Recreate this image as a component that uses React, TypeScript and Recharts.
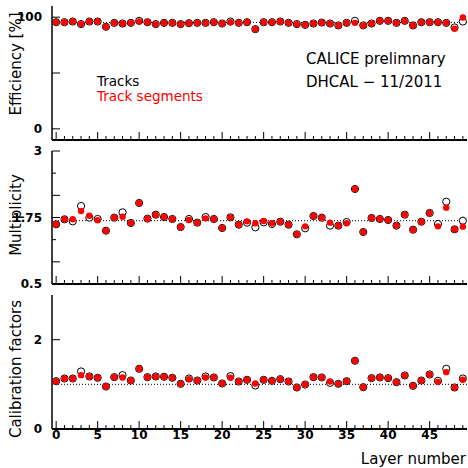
import { ReferenceLine, Scatter, ScatterChart, XAxis, YAxis } from "recharts";

const layers = [
  0, 1, 2, 3, 4, 5, 6, 7, 8, 9, 10, 11, 12, 13, 14, 15, 16, 17, 18, 19, 20, 21, 22, 23, 24,
  25, 26, 27, 28, 29, 30, 31, 32, 33, 34, 35, 36, 37, 38, 39, 40, 41, 42, 43, 44, 45, 46, 47, 48, 49,
];

const efficiencyTracks = [
  95.5, 95.5, 96.1, 93.8, 96.1, 96.1, 91.4, 94.9, 94.3, 94.9, 96.7, 95.5, 93.8, 94.9, 94.9, 93.8, 94.6,
  94.9, 94.9, 95.5, 94.3, 96.1, 94.9, 95.5, 89.3, 95.5, 95.5, 96.1, 94.9, 93.8, 93.1, 94.3, 95.2, 94.3,
  92.6, 94.9, 96.7, 92.6, 94.3, 96.7, 96.7, 94.9, 96.7, 92.6, 95.5, 95.5, 95.5, 94.9, 90.8, 96.1,
];
const efficiencySegments = [
  95.5, 95.5, 96.1, 93.8, 96.1, 96.1, 91.4, 94.9, 94.3, 94.9, 96.1, 95.5, 93.8, 94.9, 94.9, 93.8, 94.6,
  94.9, 94.9, 95.5, 94.3, 95.5, 94.9, 95.5, 89.3, 95.5, 95.5, 96.1, 94.9, 93.8, 93.1, 94.3, 95.2, 94.3,
  92.6, 94.9, 94.9, 92.6, 94.3, 96.7, 96.7, 94.9, 96.7, 92.6, 95.5, 95.5, 95.5, 94.9, 89.6, 99.7,
];

const multiplicityTracks = [
  1.622, 1.716, 1.678, 1.966, 1.747, 1.722, 1.502, 1.747, 1.847, 1.647, 2.023, 1.728, 1.803, 1.759,
  1.722, 1.571, 1.722, 1.653, 1.759, 1.722, 1.553, 1.753, 1.615, 1.653, 1.565, 1.659, 1.628, 1.671,
  1.615, 1.434, 1.547, 1.778, 1.747, 1.597, 1.597, 1.665, 2.286, 1.477, 1.741, 1.722, 1.703, 1.597,
  1.803, 1.521, 1.671, 1.835, 1.628, 2.047, 1.528, 1.69,
];
const multiplicitySegments = [
  1.622, 1.716, 1.716, 1.872, 1.784, 1.697, 1.502, 1.747, 1.765, 1.647, 2.023, 1.728, 1.803, 1.759,
  1.722, 1.571, 1.703, 1.653, 1.734, 1.722, 1.553, 1.753, 1.615, 1.678, 1.641, 1.684, 1.641, 1.671,
  1.615, 1.434, 1.584, 1.778, 1.747, 1.653, 1.597, 1.641, 2.286, 1.477, 1.741, 1.722, 1.703, 1.597,
  1.803, 1.521, 1.671, 1.835, 1.584, 1.935, 1.528, 1.578,
];

const calibrationTracks = [
  1.071, 1.131, 1.131, 1.288, 1.176, 1.146, 0.951, 1.161, 1.206, 1.086, 1.348, 1.161, 1.176, 1.169,
  1.146, 1.011, 1.131, 1.086, 1.176, 1.154, 1.019, 1.184, 1.064, 1.101, 0.974, 1.101, 1.079, 1.116,
  1.064, 0.929, 0.996, 1.161, 1.154, 1.034, 1.011, 1.071, 1.528, 0.936, 1.139, 1.154, 1.139, 1.049,
  1.198, 0.966, 1.086, 1.221, 1.079, 1.348, 0.929, 1.131,
];
const calibrationSegments = [
  1.071, 1.131, 1.131, 1.206, 1.176, 1.146, 0.951, 1.161, 1.154, 1.086, 1.348, 1.161, 1.176, 1.169,
  1.146, 1.011, 1.116, 1.086, 1.154, 1.154, 1.019, 1.146, 1.064, 1.101, 1.019, 1.101, 1.079, 1.116,
  1.064, 0.929, 0.996, 1.161, 1.154, 1.064, 1.011, 1.071, 1.528, 0.936, 1.139, 1.154, 1.139, 1.049,
  1.198, 0.966, 1.086, 1.221, 1.056, 1.273, 0.929, 1.101,
];

const xMajorStep = 5;
const efficiencyTicks = [0, 50, 100];
const efficiencyLabels = [0, 100];
const multiplicityTicks = [0.5, 0.9167, 1.3333, 1.75, 2.1667, 2.5833, 3];
const multiplicityShortTicks = [1.3333, 2.5833];
const multiplicityLabels = [0.5, 1.75, 3];
const calibrationTicks = [0, 2];
const calibrationLabels = [0, 2];

const FONT = '"DejaVu Sans", Verdana, sans-serif';

function toPoints(values: number[]) {
  return layers.map((layer, i) => ({ layer, value: values[i] }));
}

// open black ring (tracks) sits under the red dot (segments), so overlaps read as a red dot with a black rim
function OpenMarker(props: any) {
  return <circle cx={props.cx} cy={props.cy} r={3.6} fill="#fff" stroke="#000" strokeWidth={1} />;
}

function FilledMarker(props: any) {
  return <circle cx={props.cx} cy={props.cy} r={3.2} fill="#ff0000" />;
}

function renderXTick(props: any, showLabels: boolean) {
  const { x, y, payload } = props;
  const major = payload.value % xMajorStep === 0;
  return (
    <g>
      <line x1={x} x2={x} y1={y} y2={y - (major ? 8 : 4)} stroke="#000" />
      {showLabels && major && (
        <text x={x} y={y + 10} textAnchor="middle" fontFamily={FONT} fontSize={12} fontWeight="bold" fill="#000">
          {payload.value}
        </text>
      )}
    </g>
  );
}

function renderYTick(props: any, labels: number[], shortTicks: number[]) {
  const { x, y, payload } = props;
  const short = shortTicks.includes(payload.value);
  return (
    <g>
      <line x1={x} x2={x + (short ? 4 : 8)} y1={y} y2={y} stroke="#000" />
      {labels.includes(payload.value) && (
        <text x={x - 10} y={y} dy="0.36em" textAnchor="end" fontFamily={FONT} fontSize={12} fontWeight="bold" fill="#000">
          {payload.value}
        </text>
      )}
    </g>
  );
}

interface IPanelProps {
  top: number;
  bottom: number;
  domain: [number, number];
  yTicks: number[];
  yLabels: number[];
  shortTicks?: number[];
  tracks: number[];
  segments: number[];
  refValue: number;
  showXLabels?: boolean;
}

function Panel({ top, bottom, domain, yTicks, yLabels, shortTicks = [], tracks, segments, refValue, showXLabels = false }: IPanelProps) {
  return (
    <div style={{ position: "absolute", left: 0, top: 0 }}>
      <ScatterChart width={468} height={468} margin={{ top, right: 1, bottom, left: 0 }}>
        <XAxis
          type="number"
          dataKey="layer"
          domain={[-0.5, 49.5]}
          ticks={layers}
          interval={0}
          height={39}
          tickSize={0}
          tickMargin={0}
          axisLine={{ stroke: "#000", strokeWidth: 2 }}
          tick={(p: any) => renderXTick(p, showXLabels)}
        />
        <XAxis xAxisId="top" orientation="top" type="number" domain={[-0.5, 49.5]} height={0} tick={false} tickLine={false} axisLine={{ stroke: "#555", strokeWidth: 2 }} />
        <YAxis
          type="number"
          dataKey="value"
          domain={domain}
          ticks={yTicks}
          interval={0}
          width={52}
          tickSize={0}
          tickMargin={0}
          axisLine={{ stroke: "#000", strokeWidth: 1.5 }}
          tick={(p: any) => renderYTick(p, yLabels, shortTicks)}
        />
        <YAxis yAxisId="right" orientation="right" type="number" domain={domain} width={0} tick={false} tickLine={false} axisLine={{ stroke: "#888", strokeWidth: 1.5 }} />
        <ReferenceLine y={refValue} stroke="#000" strokeDasharray="1 2" />
        <Scatter name="Tracks" data={toPoints(tracks)} shape={OpenMarker} isAnimationActive={false} />
        <Scatter name="Track segments" data={toPoints(segments)} shape={FilledMarker} isAnimationActive={false} />
      </ScatterChart>
    </div>
  );
}

export default function App() {
  return (
    <div style={{ position: "absolute", left: 0, top: 0, width: 468, height: 468, background: "#fff" }}>
      <Panel top={6} bottom={289} domain={[-10, 110]} yTicks={efficiencyTicks} yLabels={efficiencyLabels} tracks={efficiencyTracks} segments={efficiencySegments} refValue={95.3} />
      <Panel
        top={151}
        bottom={145}
        domain={[0.5, 3]}
        yTicks={multiplicityTicks}
        yLabels={multiplicityLabels}
        shortTicks={multiplicityShortTicks}
        tracks={multiplicityTracks}
        segments={multiplicitySegments}
        refValue={1.69}
      />
      <Panel top={295} bottom={0} domain={[0, 3]} yTicks={calibrationTicks} yLabels={calibrationLabels} tracks={calibrationTracks} segments={calibrationSegments} refValue={1} showXLabels />
      <svg width={468} height={468} style={{ position: "absolute", left: 0, top: 0, pointerEvents: "none" }} fontFamily={FONT}>
        <text transform="translate(21,64) rotate(-90)" textAnchor="middle" fontSize={15}>Efficiency [%]</text>
        <text transform="translate(21,215) rotate(-90)" textAnchor="middle" fontSize={15}>Multiplicity</text>
        <text transform="translate(21,369) rotate(-90)" textAnchor="middle" fontSize={15}>Calibration factors</text>
        <text x={466} y={464} textAnchor="end" fontSize={15}>Layer number</text>
        <text x={97} y={86} fontSize={13.5} fill="#000">Tracks</text>
        <text x={97} y={101} fontSize={13.5} fill="#ff0000">Track segments</text>
        <text x={306} y={64} fontSize={15}>CALICE prelimnary</text>
        <text x={306} y={87} fontSize={15}>DHCAL − 11/2011</text>
      </svg>
    </div>
  );
}
